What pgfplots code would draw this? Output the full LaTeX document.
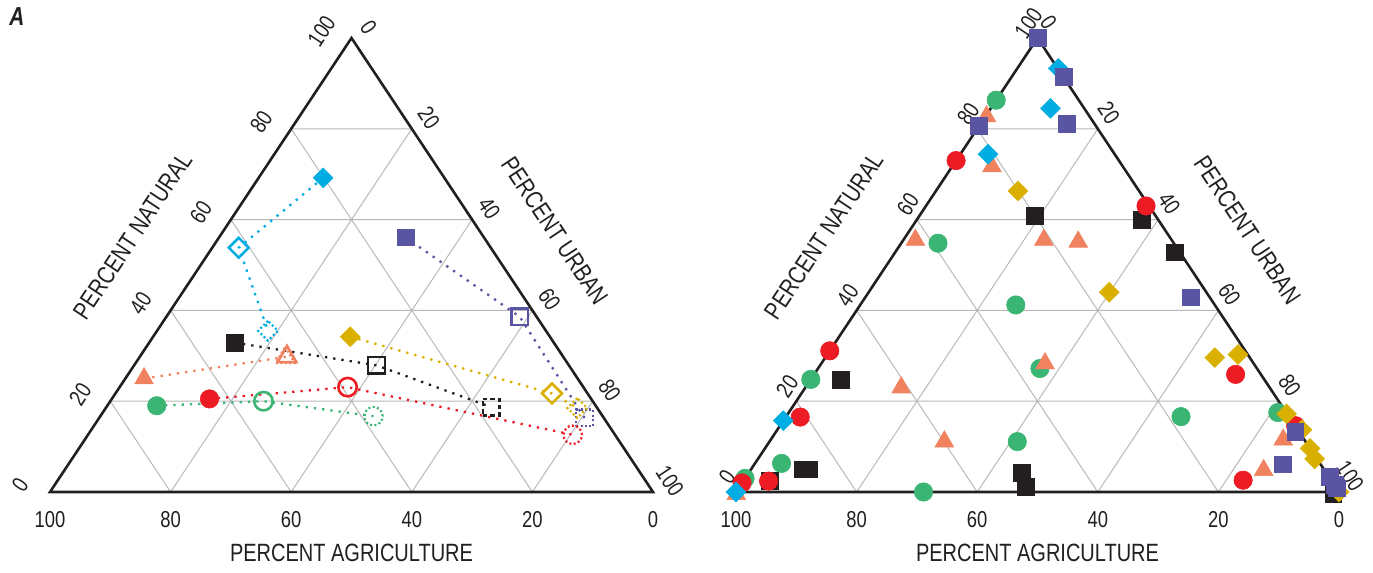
\documentclass[border=0pt]{standalone}
\usepackage{pgfplots}
\pgfplotsset{compat=1.18}
\usepackage{pgfplotstable}
\usepackage{fontspec}
\setmainfont{Liberation Sans}[FakeStretch=0.8]
\definecolor{cCyan}{RGB}{0,173,226}
\definecolor{cPurple}{RGB}{90,85,163}
\definecolor{cBlack}{RGB}{35,31,32}
\definecolor{cSalmon}{RGB}{240,130,95}
\definecolor{cGold}{RGB}{218,176,0}
\definecolor{cRed}{RGB}{237,28,36}
\definecolor{cGreen}{RGB}{58,181,115}
\definecolor{cGrid}{RGB}{185,185,185}

\pgfplotsset{
  tern/.style={hide axis, clip=false, anchor=south west,
    x=3.015pt, y=2.27pt, xmin=0, xmax=100, ymin=0, ymax=100, enlargelimits=false},
  table/tern/.style={x expr=\thisrow{U}+0.5*\thisrow{N}, y expr=\thisrow{N}},
  fSq/.style={mark=square*, mark size=4.2pt},
  oSq/.style={mark=square, mark size=4.2pt},
  fDi/.style={mark=square*, mark size=3.5pt, every mark/.append style={rotate=45}},
  oDi/.style={mark=square, mark size=3.5pt, every mark/.append style={rotate=45}},
  fCi/.style={mark=*, mark size=4.6pt},
  oCi/.style={mark=o, mark size=4.6pt},
  fTr/.style={mark=triangle*, mark size=5.4pt},
  oTr/.style={mark=triangle, mark size=5.4pt},
  dotconn/.style={no marks, line width=1.15pt, dash pattern=on 1.15pt off 3pt},
  fm/.style={only marks, every mark/.append style={solid, line width=0.3pt}},
}

% ---------------- data (N = percent natural, U = percent urban) ----------------
% Panel A (left): three periods per group
\pgfplotstableread{
N U
69.2 10.7
53.8 4.4
35.5 18.4
}\Lcyan
\pgfplotstableread{
N U
56.1 30.9
38.6 58.6
16.3 80.5
}\Lpurple
\pgfplotstableread{
N U
32.9 14.2
27.9 40.2
18.7 63.8
}\Lblack
\pgfplotstableread{
N U
25.0 3.1
29.8 24.4
29.6 24.2
}\Lsalmon
\pgfplotstableread{
N U
34.2 32.7
21.7 72.4
18.5 78.2
}\Lgold
\pgfplotstableread{
N U
20.5 16.2
23.1 37.8
12.6 80.4
}\Lred
\pgfplotstableread{
N U
19.0 8.2
20.0 25.4
16.7 45.3
}\Lgreen
% Right panel
\pgfplotstableread{
N U
100 0
91.5 8.6
81.1 14.3
80.6 0
42.9 54.0
13.3 86.1
6.1 87.6
3.4 96.8
1.5 98.5
0.8 99.2
}\Rpurple
\pgfplotstableread{
N U
93.3 6.8
84.5 9.9
74.4 4.6
15.7 0
0 0
}\Rcyan
\pgfplotstableread{
N U
86.3 0
54.8 6.1
41.2 25.8
27.2 36.8
24.8 0
11.1 41.1
0 31.1
6.3 4.4
3.0 0
16.6 65.5
17.5 81.1
}\Rgreen
\pgfplotstableread{
N U
82.7 0.2
71.7 6.6
55.5 2.0
55.5 23.3
55.1 29.2
28.3 37.1
23.0 15.9
11.1 29.0
-0.5 0.3
11.5 85.0
4.8 85.1
}\Rsalmon
\pgfplotstableread{
N U
73.0 0
63.0 36.5
31.1 0
25.9 69.9
16.5 2.4
2.4 4.2
2.0 0
14.6 85.5
2.6 82.8
}\Rred
\pgfplotstableread{
N U
66.3 13.6
44.0 39.9
29.6 64.6
30.3 68.1
17.2 82.7
13.7 87.0
9.6 90.4
7.3 92.3
0 100
}\Rgold
\pgfplotstableread{
N U
60.8 19.2
59.9 37.4
52.8 46.4
24.8 5.0
5.0 8.6
5.0 9.6
2.4 4.4
4.3 45.3
1.2 47.5
-0.5 99.3
}\Rblack

\newcommand\ternframe{%
  \draw[cGrid, line width=0.5pt]
    (axis cs:10,20) -- (axis cs:90,20)
    (axis cs:20,40) -- (axis cs:80,40)
    (axis cs:30,60) -- (axis cs:70,60)
    (axis cs:40,80) -- (axis cs:60,80)
    (axis cs:20,0) -- (axis cs:60,80)
    (axis cs:40,0) -- (axis cs:70,60)
    (axis cs:60,0) -- (axis cs:80,40)
    (axis cs:80,0) -- (axis cs:90,20)
    (axis cs:80,0) -- (axis cs:40,80)
    (axis cs:60,0) -- (axis cs:30,60)
    (axis cs:40,0) -- (axis cs:20,40)
    (axis cs:20,0) -- (axis cs:10,20);
  \draw[cBlack, line width=1.3pt, line join=miter]
    (axis cs:0,0) -- (axis cs:100,0) -- (axis cs:50,100) -- cycle;
}
% #1,#2 shift of left-edge labels; #3,#4 shift of right-edge labels
\newcommand\ternticks[4]{%
  \pgfplotsinvokeforeach{0,20,40,60,80,100}{%
    \node[font=\fontsize{11.5}{13}\selectfont, text=cBlack, yshift=-14pt] at (axis cs:{100-##1},0) {##1};
    \node[font=\fontsize{11.5}{13}\selectfont, text=cBlack, xshift=#1, yshift=#2, rotate=56.4] at (axis cs:{##1/2},##1) {##1};
    \node[font=\fontsize{11.5}{13}\selectfont, text=cBlack, xshift=#3, yshift=#4, rotate=-56.4] at (axis cs:{50+##1/2},{100-##1}) {##1};
  }%
}
% #1 color, #2 table, #3 filled style, #4 open style, #5 dash pattern of third mark
\newcommand\series[5]{%
  \addplot[#1, dotconn] table[tern] {#2};
  \addplot[#1, fm, #3, skip coords between index={1}{3}] table[tern] {#2};
  \addplot[#1, only marks, #4, skip coords between index={0}{1}, skip coords between index={2}{3},
     every mark/.append style={solid, line width=1.3pt}] table[tern] {#2};
  \addplot[#1, only marks, #4, skip coords between index={0}{2},
     every mark/.append style={line width=1.1pt, dash pattern=#5}] table[tern] {#2};
}

\begin{document}
\begin{tikzpicture}
\useasboundingbox (0pt,0pt) rectangle (686.5pt,286.5pt);
\node[font=\bfseries\itshape\fontsize{13}{15}\selectfont, text=cBlack] at (8.5pt,278pt) {A};

\begin{axis}[tern, at={(25pt,40.5pt)}]
  \ternframe
  \ternticks{-15pt}{3.5pt}{8.5pt}{5.5pt}
  \node[font=\fontsize{12.5}{14}\selectfont, text=cBlack, rotate=56.4] at (axis cs:13.7,56.4) {PERCENT NATURAL};
  \node[font=\fontsize{12.5}{14}\selectfont, text=cBlack, rotate=-56.4] at (axis cs:83.7,57.5) {PERCENT URBAN};
  \node[font=\fontsize{12.5}{14}\selectfont, text=cBlack] at (axis cs:50,-13.4) {PERCENT AGRICULTURE};
  \series{cCyan}{\Lcyan}{fDi}{oDi}{on 1pt off 1.2pt}
  \series{cPurple}{\Lpurple}{fSq}{oSq}{on 1pt off 1.2pt}
  \series{cBlack}{\Lblack}{fSq}{oSq}{on 2.4pt off 1.4pt}
  \series{cSalmon}{\Lsalmon}{fTr}{oTr}{on 1pt off 1.2pt}
  \series{cGold}{\Lgold}{fDi}{oDi}{on 1pt off 1.2pt}
  \series{cRed}{\Lred}{fCi}{oCi}{on 1pt off 1.2pt}
  \series{cGreen}{\Lgreen}{fCi}{oCi}{on 1pt off 1.2pt}
\end{axis}

\begin{axis}[tern, at={(368pt,40.5pt)}]
  \ternframe
  \ternticks{-4.5pt}{7.5pt}{5.5pt}{8pt}
  \node[font=\fontsize{12.5}{14}\selectfont, text=cBlack, rotate=56.4] at (axis cs:14.6,56.4) {PERCENT NATURAL};
  \node[font=\fontsize{12.5}{14}\selectfont, text=cBlack, rotate=-56.4] at (axis cs:84.8,57.7) {PERCENT URBAN};
  \node[font=\fontsize{12.5}{14}\selectfont, text=cBlack] at (axis cs:50,-13.4) {PERCENT AGRICULTURE};
  \addplot[cGreen, fm, fCi] table[tern] {\Rgreen};
  \addplot[cBlack, fm, fSq] table[tern] {\Rblack};
  \addplot[cRed, fm, fCi] table[tern] {\Rred};
  \addplot[cSalmon, fm, fTr] table[tern] {\Rsalmon};
  \addplot[cGold, fm, fDi] table[tern] {\Rgold};
  \addplot[cCyan, fm, fDi] table[tern] {\Rcyan};
  \addplot[cPurple, fm, fSq] table[tern] {\Rpurple};
\end{axis}
\end{tikzpicture}
\end{document}
